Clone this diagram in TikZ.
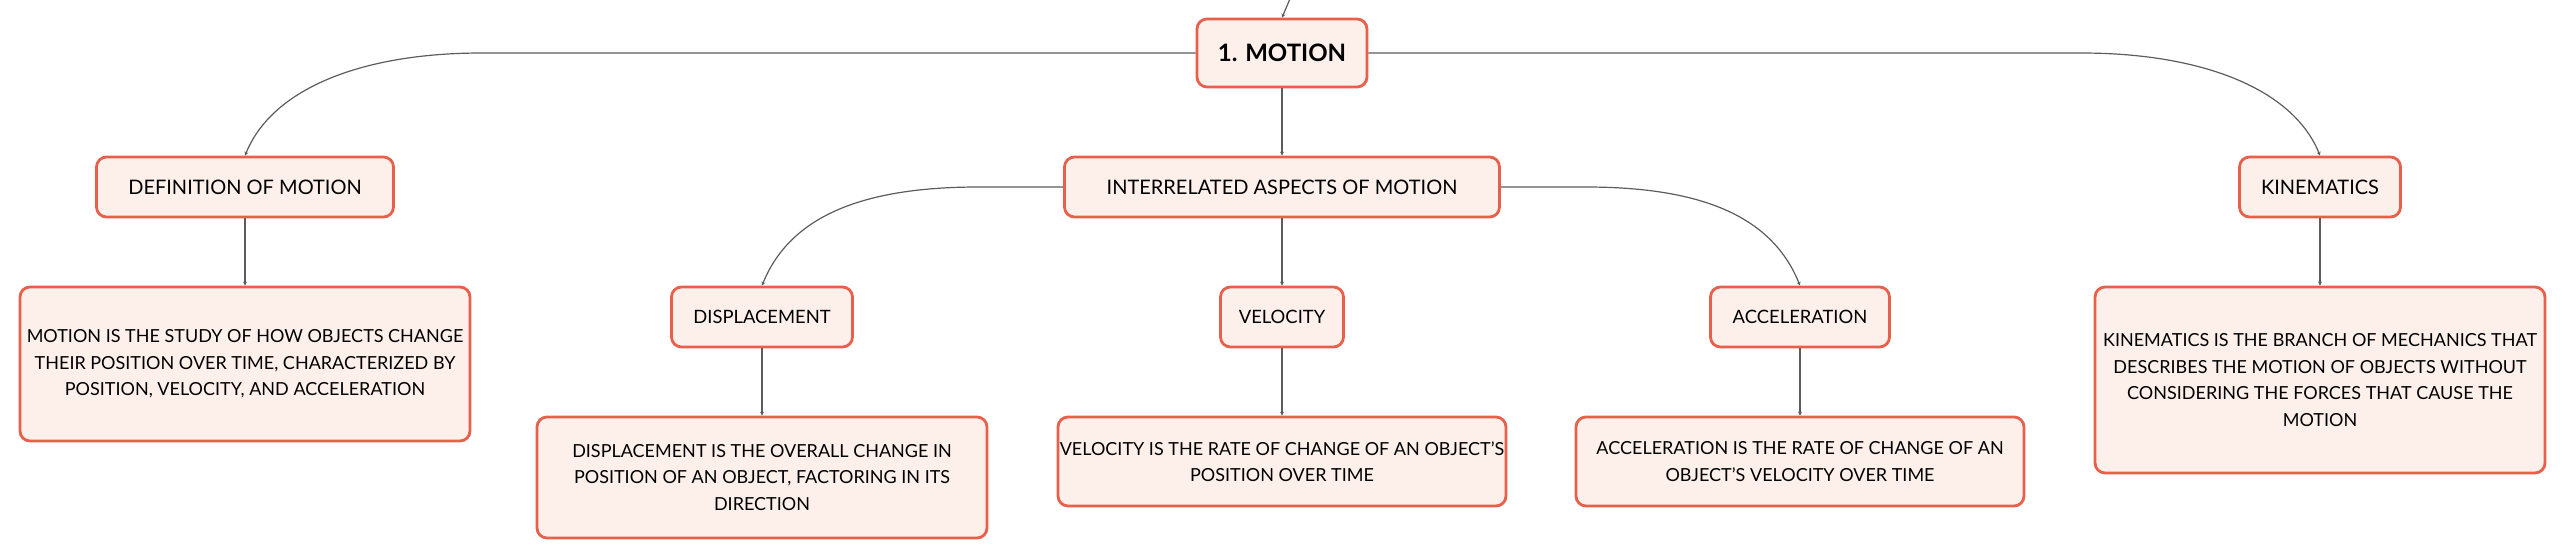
\documentclass[tikz,border=0pt]{standalone}
\usepackage{fontspec}
\setmainfont{Lato}
\usetikzlibrary{arrows.meta}
\definecolor{boxline}{HTML}{E8604B}
\definecolor{boxfill}{HTML}{FDF0EB}
\definecolor{linkgray}{HTML}{5C5C5C}

\begin{document}
\begin{tikzpicture}[x=0.5pt, y=-0.5pt, every node/.style={font=\fontsize{9}{13.3}\selectfont}]
    % Styles
    \tikzstyle{box} = [rectangle, rounded corners=5pt, draw=boxline, line width=1.4pt, fill=boxfill, text=black, align=center, inner sep=0pt]
    \tikzstyle{root} = [box, minimum width=85pt, minimum height=34pt, font=\fontsize{12}{14}\selectfont\bfseries]
    \tikzstyle{topic} = [box, minimum height=30pt, font=\fontsize{10}{12}\selectfont]
    \tikzstyle{subtopic} = [box, minimum height=30pt, font=\fontsize{9.2}{11}\selectfont]
    \tikzstyle{note} = [box, minimum width=225pt]
    \tikzstyle{link} = [draw=linkgray, line width=0.6pt, -{Stealth[length=2pt,width=2pt]}]

    \useasboundingbox (0,0) rectangle (2565,559);

    % Nodes
    \node (motion) [root] at (1282,53) {1. MOTION};
    \node (def)    [topic, minimum width=148.5pt] at (245,187) {DEFINITION OF MOTION};
    \node (inter)  [topic, minimum width=217.5pt] at (1282,187) {INTERRELATED ASPECTS OF MOTION};
    \node (kin)    [topic, minimum width=80.5pt] at (2320,187) {KINEMATICS};
    \node (disp)   [subtopic, minimum width=90.5pt] at (762,317) {DISPLACEMENT};
    \node (vel)    [subtopic, minimum width=61.5pt] at (1282,317) {VELOCITY};
    \node (acc)    [subtopic, minimum width=89.5pt] at (1800,317) {ACCELERATION};

    % Notes
    \node (defnote)  [note, minimum height=77pt] at (245,364) {MOTION IS THE STUDY OF HOW OBJECTS CHANGE\\THEIR POSITION OVER TIME, CHARACTERIZED BY\\POSITION, VELOCITY, AND ACCELERATION};
    \node (dispnote) [note, minimum height=60.5pt] at (762,477.5) {DISPLACEMENT IS THE OVERALL CHANGE IN\\POSITION OF AN OBJECT, FACTORING IN ITS\\DIRECTION};
    \node (velnote)  [note, minimum width=224pt, minimum height=44.5pt] at (1282,461.5) {VELOCITY IS THE RATE OF CHANGE OF AN OBJECT'S\\POSITION OVER TIME};
    \node (accnote)  [note, minimum width=224pt, minimum height=44.5pt] at (1800,461.5) {ACCELERATION IS THE RATE OF CHANGE OF AN\\OBJECT'S VELOCITY OVER TIME};
    \node (kinnote)  [note, minimum height=93pt] at (2320,380) {KINEMATICS IS THE BRANCH OF MECHANICS THAT\\DESCRIBES THE MOTION OF OBJECTS WITHOUT\\CONSIDERING THE FORCES THAT CAUSE THE\\MOTION};

    % Arrows
    \coordinate (parent) at (1298,-20);
    \draw [link] (parent) -- (motion.north);
    \draw [link] (motion.west) -- ++(-714,0) .. controls +(-120,0) and +(27,-67) .. (def.north);
    \draw [link] (motion.east) -- ++(713,0) .. controls +(120,0) and +(-27,-67) .. (kin.north);
    \draw [link] (motion) -- (inter);
    \draw [link] (inter.west) -- ++(-85,0) .. controls +(-120,0) and +(27,-67) .. (disp.north);
    \draw [link] (inter) -- (vel);
    \draw [link] (inter.east) -- ++(85,0) .. controls +(120,0) and +(-27,-67) .. (acc.north);
    \draw [link] (def) -- (defnote);
    \draw [link] (disp) -- (dispnote);
    \draw [link] (vel) -- (velnote);
    \draw [link] (acc) -- (accnote);
    \draw [link] (kin) -- (kinnote);
\end{tikzpicture}
\end{document}
